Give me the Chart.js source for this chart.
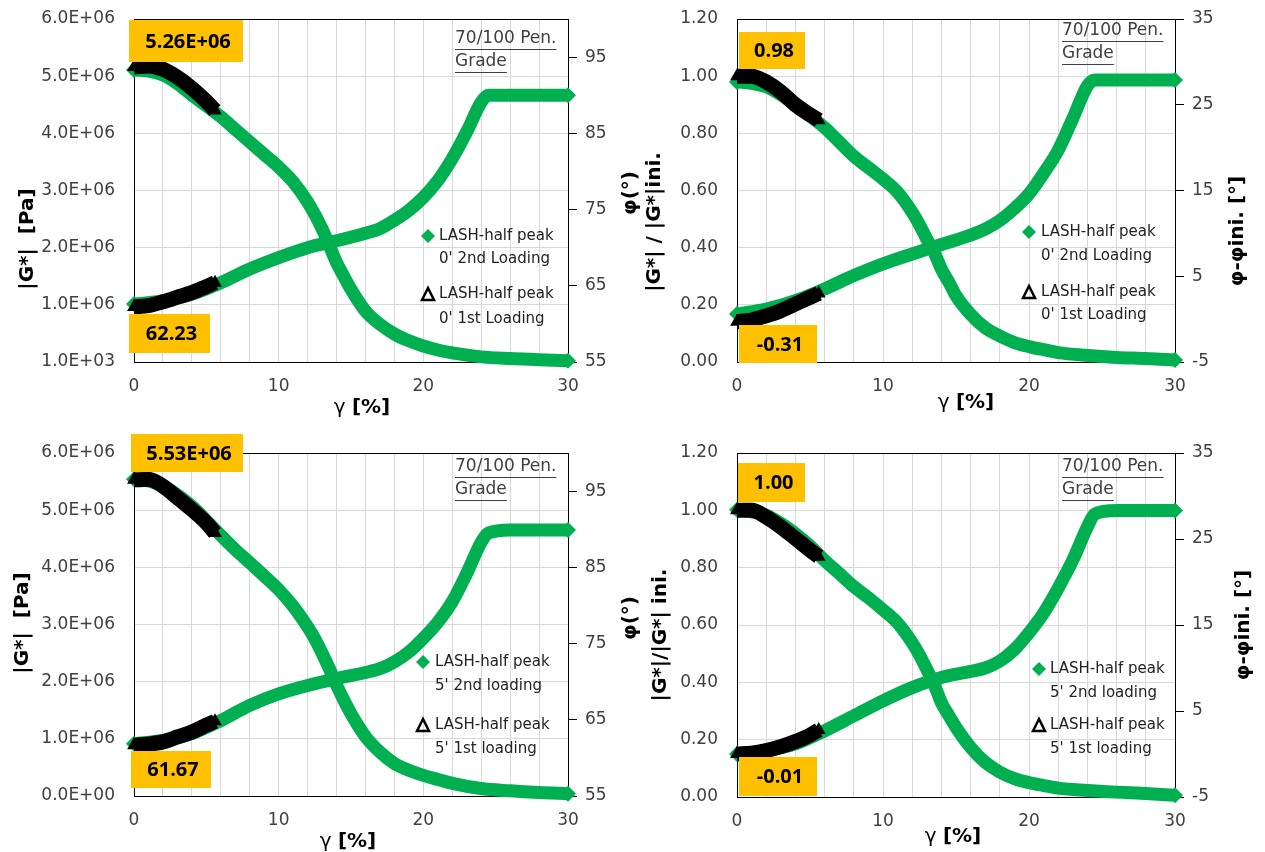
<!DOCTYPE html>
<html>
<head>
<meta charset="utf-8">
<script src="https://cdn.jsdelivr.net/npm/chart.js@4.4.0/dist/chart.umd.min.js"></script>
<style>
  html, body { margin: 0; padding: 0; background: #fff; overflow: hidden; }
  #wrap { position: relative; width: 1265px; height: 852px; }
  canvas { position: absolute; }
</style>
</head>
<body>
<div id="wrap">
  <canvas id="c0" width="645" height="420" style="left:0;top:0;width:645px;height:420px"></canvas>
  <canvas id="c1" width="625" height="420" style="left:640px;top:0;width:625px;height:420px"></canvas>
  <canvas id="c2" width="645" height="432" style="left:0;top:420px;width:645px;height:432px"></canvas>
  <canvas id="c3" width="625" height="432" style="left:640px;top:420px;width:625px;height:432px"></canvas>
</div>
<script>
Chart.defaults.font.family = "'DejaVu Sans', sans-serif"
Chart.defaults.color = "#404040"

const strainMain = [0, 1, 2, 3, 4, 5, 6, 7, 8, 9, 10, 11, 12, 12.5, 13, 13.5, 14, 14.5, 15, 16, 17, 18, 19, 20, 21, 22, 24, 26, 28, 30]
const strainPhase = [0, 2, 4, 6, 8, 10, 12, 14, 16, 17, 18, 19, 20, 21, 22, 23, 24, 24.5, 26, 28, 30]
const strainFirst = [0, 1, 2, 3, 4, 5, 5.6]

// 0' rest - 2nd loading
const gStar0Second = [5.11e6, 5.09e6, 5.02e6, 4.87e6, 4.67e6, 4.48e6, 4.29e6, 4.07e6, 3.85e6, 3.63e6, 3.41e6, 3.15e6, 2.80e6, 2.58e6, 2.33e6, 2.04e6, 1.74e6, 1.50e6, 1.27e6, 0.89e6, 0.66e6, 0.49e6, 0.37e6, 0.28e6, 0.21e6, 0.16e6, 0.09e6, 0.06e6, 0.04e6, 0.02e6]
const phase0Second = [62.6, 63.0, 63.9, 65.4, 67.2, 68.7, 70.0, 70.9, 71.9, 72.5, 73.6, 74.9, 76.6, 78.8, 81.7, 85.2, 89.1, 90.0, 90.0, 90.0, 90.0]
const ratio0Second = [0.98, 0.975, 0.963, 0.935, 0.90, 0.86, 0.82, 0.77, 0.72, 0.68, 0.64, 0.594, 0.524, 0.48, 0.43, 0.384, 0.325, 0.28, 0.232, 0.167, 0.12, 0.091, 0.068, 0.054, 0.043, 0.033, 0.023, 0.016, 0.012, 0.007]
const dPhase0Second = [0.59, 1.17, 2.15, 3.52, 5.08, 6.45, 7.6, 8.7, 9.8, 10.5, 11.5, 12.9, 14.6, 17.0, 19.7, 23.4, 27.2, 27.9, 27.9, 27.9, 27.9]

// 0' rest - 1st loading
const gStar0First = [5.16e6, 5.18e6, 5.12e6, 4.98e6, 4.79e6, 4.56e6, 4.40e6]
const phase0First = [62.23, 62.4, 62.9, 63.5, 64.1, 64.9, 65.4]
const ratio0First = [1.0, 1.0, 0.98, 0.945, 0.90, 0.865, 0.846]
const dPhase0First = [-0.31, -0.1, 0.39, 0.98, 1.76, 2.54, 3.0]

// 5' rest - 2nd loading
const gStar5Second = [5.54e6, 5.51e6, 5.42e6, 5.27e6, 5.07e6, 4.82e6, 4.56e6, 4.31e6, 4.08e6, 3.85e6, 3.61e6, 3.32e6, 2.96e6, 2.75e6, 2.50e6, 2.23e6, 1.94e6, 1.68e6, 1.44e6, 1.04e6, 0.77e6, 0.57e6, 0.45e6, 0.36e6, 0.29e6, 0.22e6, 0.13e6, 0.09e6, 0.06e6, 0.04e6]
const phase5Second = [61.87, 62.3, 63.2, 64.9, 66.9, 68.4, 69.5, 70.4, 71.2, 71.7, 72.6, 73.9, 75.7, 77.8, 80.5, 84.2, 88.3, 89.5, 89.9, 89.9, 89.9]
const ratio5Second = [1.002, 0.995, 0.983, 0.955, 0.919, 0.876, 0.825, 0.78, 0.734, 0.695, 0.653, 0.607, 0.538, 0.495, 0.445, 0.393, 0.329, 0.285, 0.243, 0.173, 0.121, 0.087, 0.064, 0.05, 0.04, 0.031, 0.023, 0.017, 0.012, 0.006]
const dPhase5Second = [0.01, 0.4, 1.17, 2.7, 4.44, 6.18, 7.72, 8.9, 9.6, 10.0, 10.8, 12.15, 14.1, 16.4, 19.3, 22.55, 26.4, 27.9, 28.3, 28.3, 28.3]

// 5' rest - 1st loading
const gStar5First = [5.53e6, 5.54e6, 5.42e6, 5.22e6, 5.01e6, 4.78e6, 4.6e6]
const phase5First = [61.67, 61.8, 62.1, 62.75, 63.4, 64.3, 64.8]
const ratio5First = [1.0, 1.0, 0.977, 0.942, 0.902, 0.861, 0.838]
const dPhase5First = [-0.01, 0.1, 0.4, 0.85, 1.45, 2.2, 2.8]

// axis ticks
const gStarTicks = [0, 1e6, 2e6, 3e6, 4e6, 5e6, 6e6]
const gStarLabelsTop = ["1.0E+03", "1.0E+06", "2.0E+06", "3.0E+06", "4.0E+06", "5.0E+06", "6.0E+06"]
const gStarLabelsBottom = ["0.0E+00", "1.0E+06", "2.0E+06", "3.0E+06", "4.0E+06", "5.0E+06", "6.0E+06"]
const ratioTicks = [0, 0.2, 0.4, 0.6, 0.8, 1.0, 1.2]
const ratioLabels = ["0.00", "0.20", "0.40", "0.60", "0.80", "1.00", "1.20"]
const phaseTicks = [55, 65, 75, 85, 95]
const dPhaseTicks = [-5, 5, 15, 25, 35]

// highlighted values in the orange boxes
const peakLabels = ["5.26E+06", "62.23", "0.98", "-0.31", "5.53E+06", "61.67", "1.00", "-0.01"]

const GREEN = "#00b050"
const pts = (xs, ys) => xs.map((x, i) => ({ x, y: ys[i] }))

// draws titles, frame, boxes, grade note and the in-plot legend
const decorPlugin = {
  id: "decor",
  beforeDatasetsDraw(chart, args, o) {
    const { ctx, chartArea: a } = chart
    ctx.save()
    ctx.strokeStyle = "#000"
    ctx.lineWidth = 1
    ctx.beginPath()
    ctx.moveTo(a.left, a.top + 0.5)
    ctx.lineTo(a.right, a.top + 0.5)
    ctx.stroke()
    ctx.restore()
  },
  afterDatasetsDraw(chart, args, o) {
    const { ctx } = chart
    ctx.save()
    // axis titles
    ctx.fillStyle = "#000"
    ctx.textAlign = "center"
    ctx.textBaseline = "middle"
    ctx.font = "bold 20px 'DejaVu Sans'"
    o.vTitles.forEach((t) => {
      ctx.save()
      ctx.translate(t.x, t.y)
      ctx.rotate(-Math.PI / 2)
      ctx.fillText(t.text, 0, 0)
      ctx.restore()
    })
    // x title: regular gamma, bold unit
    ctx.textAlign = "left"
    ctx.font = "20px 'DejaVu Sans'"
    const gW = ctx.measureText("γ ").width
    ctx.font = "bold 20px 'DejaVu Sans'"
    const uW = ctx.measureText("[%]").width
    const x0 = o.xTitle.x - (gW + uW) / 2
    ctx.fillText("[%]", x0 + gW, o.xTitle.y)
    ctx.font = "20px 'DejaVu Sans'"
    ctx.fillText("γ", x0, o.xTitle.y)
    ctx.textAlign = "center"

    // orange value boxes
    o.boxes.forEach((b) => {
      ctx.fillStyle = "#ffc000"
      ctx.fillRect(b.x, b.y, b.w, b.h)
      ctx.fillStyle = "#000"
      ctx.font = "bold 20px 'Open Sans'"
      ctx.fillText(b.text, b.x + b.w / 2 + 2, b.y + b.h / 2 + 1)
    })

    // grade note
    ctx.fillStyle = "#404040"
    ctx.strokeStyle = "#404040"
    ctx.lineWidth = 1
    ctx.textAlign = "left"
    ctx.font = "17px 'DejaVu Sans'"
    ;["70/100 Pen.", "Grade"].forEach((line, i) => {
      const y = o.grade.y + i * 23
      ctx.fillText(line, o.grade.x, y)
      const w = ctx.measureText(line).width
      ctx.beginPath()
      ctx.moveTo(o.grade.x, y + 10.5)
      ctx.lineTo(o.grade.x + w, y + 10.5)
      ctx.stroke()
    })

    // legend
    const L = o.legend
    ctx.font = "15px 'DejaVu Sans'"
    ctx.fillStyle = "#222"
    L.lines.forEach((line, i) => ctx.fillText(line, L.tx, L.y[i]))
    ctx.fillStyle = GREEN
    ctx.beginPath()
    ctx.moveTo(L.mx - 7, L.y[0])
    ctx.lineTo(L.mx, L.y[0] - 7)
    ctx.lineTo(L.mx + 7, L.y[0])
    ctx.lineTo(L.mx, L.y[0] + 7)
    ctx.closePath()
    ctx.fill()
    ctx.strokeStyle = "#000"
    ctx.lineWidth = 2.5
    ctx.beginPath()
    ctx.moveTo(L.mx - 6, L.y[2] + 6)
    ctx.lineTo(L.mx, L.y[2] - 6)
    ctx.lineTo(L.mx + 6, L.y[2] + 6)
    ctx.closePath()
    ctx.stroke()
    ctx.restore()
  },
}

// dense markers in the original merge into a thick band; markers only shown at the ends
function dataset(data, axis, first) {
  const last = data.length - 1
  return {
    data,
    yAxisID: axis,
    borderColor: first ? "#000" : GREEN,
    backgroundColor: first ? "#000" : GREEN,
    borderWidth: first ? 15 : 13,
    pointStyle: first ? "triangle" : "rectRot",
    pointRadius: (c) => (c.dataIndex === 0 || c.dataIndex === last ? 8 : 0),
    pointBorderWidth: 0,
    cubicInterpolationMode: "monotone",
    clip: false,
    order: first ? 0 : 1,
  }
}

// keep the plot box where it is in the original: no extra label padding
const noPad = (s) => { s.paddingTop = 0; s.paddingBottom = 0 }

function buildPanel(id, p) {
  const ctx = document.getElementById(id).getContext("2d")
  return new Chart(ctx, {
    type: "line",
    data: {
      datasets: [
        dataset(pts(strainFirst, p.leftFirst), "y", true),
        dataset(pts(strainFirst, p.rightFirst), "y2", true),
        dataset(pts(strainMain, p.leftSecond), "y", false),
        dataset(pts(strainPhase, p.rightSecond), "y2", false),
      ],
    },
    options: {
      responsive: false,
      animation: false,
      devicePixelRatio: 1,
      layout: { autoPadding: false, padding: { top: p.top, left: 0, right: 0, bottom: 0 } },
      plugins: {
        legend: { display: false },
        tooltip: { enabled: false },
        decor: p.decor,
      },
      scales: {
        x: {
          type: "linear",
          min: 0,
          max: 30,
          ticks: {
            stepSize: 2,
            autoSkip: false,
            maxRotation: 0,
            padding: 14,
            font: { size: 17 },
            callback: (v) => (v % 10 === 0 ? String(v) : ""),
          },
          grid: { color: "#d9d9d9", drawTicks: false },
          border: { color: "#000" },
          afterFit: (s) => { s.height = p.xH },
        },
        y: {
          position: "left",
          min: p.leftTicks[0],
          max: p.leftTicks[p.leftTicks.length - 1],
          afterBuildTicks: (s) => { s.ticks = p.leftTicks.map((v) => ({ value: v })) },
          ticks: { padding: p.leftPad, font: { size: 17 }, callback: (v, i) => p.leftLabels[i] },
          grid: { color: "#d9d9d9", drawTicks: false },
          border: { color: "#000" },
          afterFit: (s) => { s.width = p.leftW; noPad(s) },
        },
        y2: {
          position: "right",
          min: p.rightMin,
          max: p.rightMax,
          afterBuildTicks: (s) => { s.ticks = p.rightTicks.map((v) => ({ value: v })) },
          ticks: { padding: 8, font: { size: 17 } },
          grid: { drawOnChartArea: false, color: "#000", tickLength: 9 },
          border: { color: "#000" },
          afterFit: (s) => { s.width = p.rightW; noPad(s) },
        },
      },
    },
    plugins: [decorPlugin],
  })
}

const legend0 = ["LASH-half peak", "0' 2nd Loading", "LASH-half peak", "0' 1st Loading"]
const legend5 = ["LASH-half peak", "5' 2nd loading", "LASH-half peak", "5' 1st loading"]

buildPanel("c0", {
  top: 19, xH: 58, leftW: 134, rightW: 77, leftPad: 19,
  leftTicks: gStarTicks, leftLabels: gStarLabelsTop,
  rightMin: 55, rightMax: 100, rightTicks: phaseTicks,
  leftFirst: gStar0First, rightFirst: phase0First, leftSecond: gStar0Second, rightSecond: phase0Second,
  decor: {
    vTitles: [{ text: "|G*|  [Pa]", x: 28, y: 239 }, { text: "φ(°)", x: 631, y: 193 }],
    xTitle: { x: 362, y: 408 },
    boxes: [
      { text: peakLabels[0], x: 129, y: 20, w: 114, h: 42 },
      { text: peakLabels[1], x: 129, y: 314, w: 81, h: 39 },
    ],
    grade: { x: 455, y: 39 },
    legend: { mx: 428, tx: 439, y: [236, 259, 294, 319], lines: legend0 },
  },
})

buildPanel("c1", {
  top: 19, xH: 58, leftW: 97, rightW: 90, leftPad: 19,
  leftTicks: ratioTicks, leftLabels: ratioLabels,
  rightMin: -5, rightMax: 35, rightTicks: dPhaseTicks,
  leftFirst: ratio0First, rightFirst: dPhase0First, leftSecond: ratio0Second, rightSecond: dPhase0Second,
  decor: {
    vTitles: [{ text: "|G*| / |G*|ini.", x: 15, y: 222 }, { text: "φ-φini. [°]", x: 598, y: 231 }],
    xTitle: { x: 326, y: 403 },
    boxes: [
      { text: peakLabels[2], x: 99, y: 32, w: 66, h: 37 },
      { text: peakLabels[3], x: 99, y: 325, w: 78, h: 38 },
    ],
    grade: { x: 422, y: 31 },
    legend: { mx: 389, tx: 401, y: [232, 256, 292, 315], lines: legend0 },
  },
})

buildPanel("c2", {
  top: 33, xH: 56, leftW: 134, rightW: 77, leftPad: 19,
  leftTicks: gStarTicks, leftLabels: gStarLabelsBottom,
  rightMin: 55, rightMax: 100, rightTicks: phaseTicks,
  leftFirst: gStar5First, rightFirst: phase5First, leftSecond: gStar5Second, rightSecond: phase5Second,
  decor: {
    vTitles: [{ text: "|G*|  [Pa]", x: 23, y: 203 }, { text: "φ(°)", x: 631, y: 198 }],
    xTitle: { x: 348, y: 422 },
    boxes: [
      { text: peakLabels[4], x: 131, y: 14, w: 112, h: 38 },
      { text: peakLabels[5], x: 131, y: 331, w: 80, h: 37 },
    ],
    grade: { x: 455, y: 47 },
    legend: { mx: 423, tx: 435, y: [242, 266, 305, 329], lines: legend5 },
  },
})

buildPanel("c3", {
  top: 33, xH: 55, leftW: 97, rightW: 90, leftPad: 19,
  leftTicks: ratioTicks, leftLabels: ratioLabels,
  rightMin: -5, rightMax: 35, rightTicks: dPhaseTicks,
  leftFirst: ratio5First, rightFirst: dPhase5First, leftSecond: ratio5Second, rightSecond: dPhase5Second,
  decor: {
    vTitles: [{ text: "|G*|/|G*| ini.", x: 21, y: 215 }, { text: "φ-φini. [°]", x: 604, y: 205 }],
    xTitle: { x: 313, y: 417 },
    boxes: [
      { text: peakLabels[6], x: 98, y: 43, w: 67, h: 39 },
      { text: peakLabels[7], x: 99, y: 337, w: 78, h: 39 },
    ],
    grade: { x: 422, y: 47 },
    legend: { mx: 399, tx: 410, y: [249, 273, 305, 329], lines: legend5 },
  },
})
</script>
</body>
</html>
